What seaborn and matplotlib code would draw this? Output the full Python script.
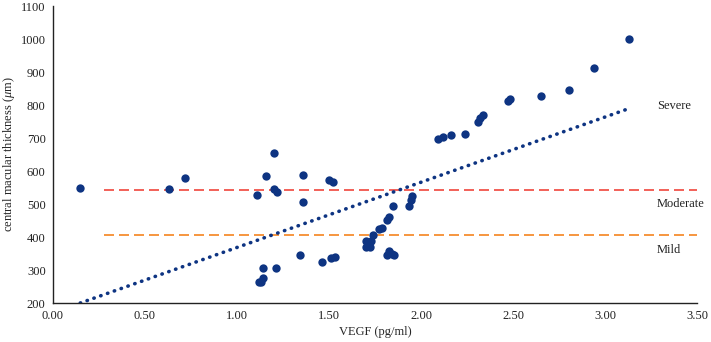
import matplotlib
matplotlib.use("Agg")
import matplotlib.pyplot as plt
import seaborn as sns
import pandas as pd

sns.set_style("white")
plt.rcParams['font.family'] = ['Liberation Serif', 'DejaVu Serif']
plt.rcParams['mathtext.fontset'] = 'custom'
plt.rcParams['mathtext.it'] = 'Liberation Serif:italic'
plt.rcParams['mathtext.rm'] = 'Liberation Serif'

vegf = [0.15, 0.63, 0.72, 1.11, 1.16, 1.20, 1.20, 1.22, 1.36, 1.36, 1.50, 1.52,
        1.12, 1.13, 1.14, 1.14, 1.21, 1.34, 1.46, 1.51, 1.53,
        1.70, 1.73, 1.70, 1.725, 1.74, 1.77, 1.79, 1.815, 1.825, 1.85,
        1.935, 1.944, 1.951, 1.815, 1.824, 1.851, 1.84,
        2.09, 2.12, 2.16, 2.24, 2.31, 2.32, 2.335, 2.47, 2.485, 2.65, 2.80, 2.94, 3.13]
cmt = [550, 545, 580, 528, 584, 654, 547, 538, 588, 507, 572, 566,
       264, 265, 276, 306, 306, 345, 325, 336, 340,
       388, 388, 369, 369, 406, 425, 428, 453, 461, 494,
       494, 511, 523, 347, 359, 347, 350,
       696, 704, 709, 711, 750, 760, 770, 811, 818, 829, 846, 912, 1000]

trend_x = [0.15, 3.13]
trend_y = [200, 790]
thresholds = {"Moderate": 542, "Mild": 405}
threshold_colors = ["#f0453c", "#f5841f"]
line_start = 0.28
labels = ["Severe", "Moderate", "Mild"]
label_pos_y = [796, 500, 362]

xticks = [0.0, 0.5, 1.0, 1.5, 2.0, 2.5, 3.0, 3.5]
yticks = [200, 300, 400, 500, 600, 700, 800, 900, 1000, 1100]

df = pd.DataFrame({"VEGF": vegf, "CMT": cmt})
dark = "#0e3482"

fig = plt.figure(figsize=(7.11, 3.42), dpi=100)
ax = fig.add_axes([0.074, 0.114, 0.907, 0.868])

# trend line
ax.plot(trend_x, trend_y, linestyle=(0, (0.1, 1.9)), color=dark, lw=2.6,
        dash_capstyle="round", zorder=2)

for (name, yv), c in zip(thresholds.items(), threshold_colors):
    ax.plot([line_start, 3.5], [yv, yv], color=c, lw=1.2, dashes=(6, 3), zorder=1)

sns.scatterplot(data=df, x="VEGF", y="CMT", ax=ax, color=dark, s=36,
                edgecolor=dark, linewidth=0, zorder=3, legend=False)

for lab, yv in zip(labels, label_pos_y):
    ax.text(3.28, yv, lab, fontsize=9, ha="left", va="center", color="#222222")

ax.set_xlim(0, 3.5)
ax.set_ylim(200, 1100)
ax.set_xticks(xticks)
ax.set_xticklabels([f"{t:.2f}" for t in xticks])
ax.set_yticks(yticks)
ax.set_xlabel("VEGF (pg/ml)", fontsize=9, labelpad=3)
ax.set_ylabel(r"central macular thickness ($\mu$m)", fontsize=9, labelpad=3)
ax.tick_params(axis="x", direction="in", length=3, width=0.8, labelsize=9, pad=5, colors="#222222")
ax.tick_params(axis="y", direction="out", length=3, width=0.8, labelsize=9, pad=2, colors="#222222")
for s in ["top", "right"]:
    ax.spines[s].set_visible(False)
for s in ["left", "bottom"]:
    ax.spines[s].set_color("#222222")
    ax.spines[s].set_linewidth(1.0)

fig.savefig("out.png", dpi=100)
